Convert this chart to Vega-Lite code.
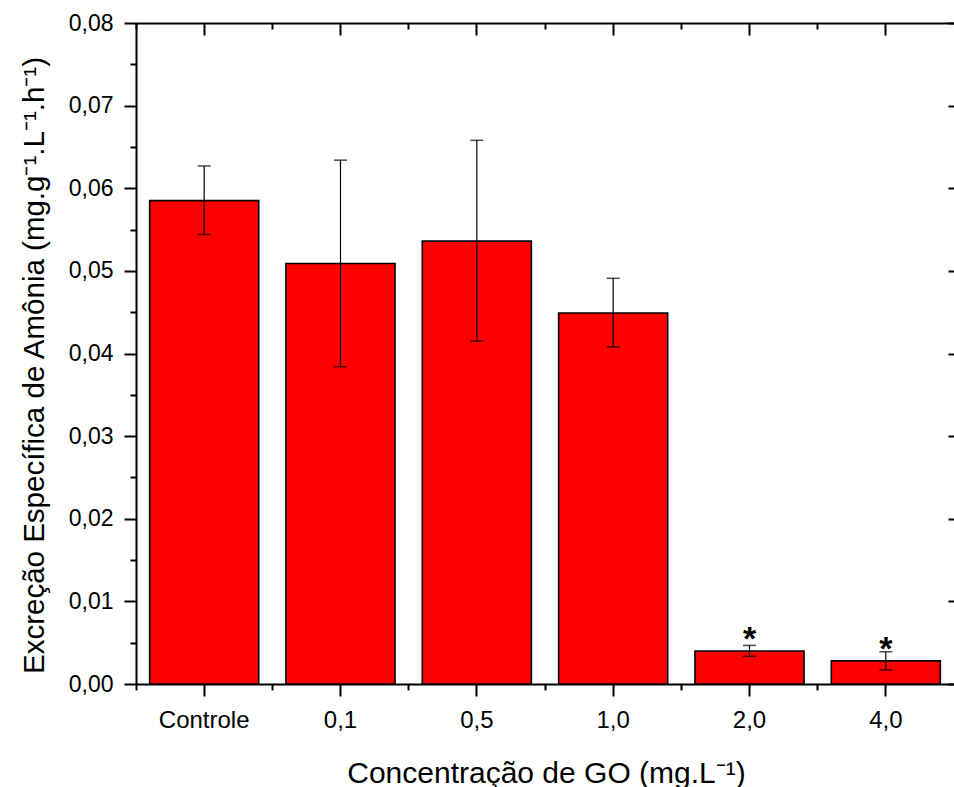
{
  "$schema": "https://vega.github.io/schema/vega-lite/v6.json",
  "width": 818,
  "height": 661,
  "autosize": "none",
  "padding": {"left": 136, "top": 23, "right": 0, "bottom": 103},
  "background": "white",
  "config": {
    "view": {"stroke": null},
    "font": "Liberation Sans",
    "axis": {"grid": false, "domainColor": "black", "tickColor": "black", "labelColor": "black", "titleColor": "black", "domainWidth": 2, "tickWidth": 2}
  },
  "data": {
    "values": [
      {"conc": "Controle", "mean": 0.0585, "lo": 0.0544, "hi": 0.0627, "sig": ""},
      {"conc": "0,1", "mean": 0.0509, "lo": 0.0384, "hi": 0.0634, "sig": ""},
      {"conc": "0,5", "mean": 0.0536, "lo": 0.0415, "hi": 0.0658, "sig": ""},
      {"conc": "1,0", "mean": 0.0449, "lo": 0.0408, "hi": 0.0491, "sig": ""},
      {"conc": "2,0", "mean": 0.0040, "lo": 0.00335, "hi": 0.00467, "sig": "*"},
      {"conc": "4,0", "mean": 0.0028, "lo": 0.0017, "hi": 0.0039, "sig": "*"}
    ]
  },
  "resolve": {"axis": {"x": "independent", "y": "independent"}},
  "layer": [
    {
      "mark": {"type": "bar", "width": {"band": 0.8}, "fill": "#ff0000", "stroke": "black", "strokeWidth": 1.6},
      "encoding": {
        "x": {
          "field": "conc", "type": "nominal", "sort": null,
          "scale": {"paddingInner": 0, "paddingOuter": 0},
          "axis": {
            "orient": "bottom", "labelAngle": 0, "labelFontSize": 24, "labelPadding": 12, "tickSize": 12,
            "title": "Concentração de GO (mg.L⁻¹)", "titleFontSize": 30, "titleFontWeight": "normal",
            "titleX": 410, "titleY": 98, "titleBaseline": "alphabetic"
          }
        },
        "y": {
          "field": "mean", "type": "quantitative",
          "scale": {"domain": [0, 0.08], "nice": false, "zero": true},
          "axis": {
            "orient": "left", "values": [0, 0.01, 0.02, 0.03, 0.04, 0.05, 0.06, 0.07, 0.08],
            "labelExpr": "replace(format(datum.value, '.2f'), '.', ',')",
            "labelFontSize": 23, "labelPadding": 11, "tickSize": 12,
            "title": "Excreção Específica de Amônia (mg.g⁻¹.L⁻¹.h⁻¹)", "titleFontSize": 29.5, "titleFontWeight": "normal",
            "titleX": -93, "titleY": 342, "titleBaseline": "alphabetic"
          }
        }
      }
    },
    {
      "mark": {"type": "rule", "color": "black", "strokeWidth": 1.2},
      "encoding": {
        "x": {"field": "conc", "type": "nominal", "sort": null,
          "axis": {"orient": "bottom", "bandPosition": 0, "labels": false, "domain": false, "tickSize": 6, "title": null}},
        "y": {"field": "lo", "type": "quantitative",
          "axis": {"orient": "left", "values": [0.005, 0.015, 0.025, 0.035, 0.045, 0.055, 0.065, 0.075], "labels": false, "domain": false, "tickSize": 6, "title": null}},
        "y2": {"field": "hi"}
      }
    },
    {
      "mark": {"type": "tick", "color": "black", "size": 13, "thickness": 1.5},
      "encoding": {
        "x": {"field": "conc", "type": "nominal", "sort": null,
          "axis": {"orient": "top", "labels": false, "domain": true, "tickSize": -12, "title": null}},
        "y": {"field": "lo", "type": "quantitative",
          "axis": {"orient": "right", "values": [0, 0.01, 0.02, 0.03, 0.04, 0.05, 0.06, 0.07, 0.08], "labels": false, "domain": false, "tickSize": -6, "title": null}}
      }
    },
    {
      "mark": {"type": "tick", "color": "black", "size": 13, "thickness": 1.5},
      "encoding": {
        "x": {"field": "conc", "type": "nominal", "sort": null,
          "axis": {"orient": "top", "bandPosition": 0, "labels": false, "domain": false, "tickSize": -6, "title": null}},
        "y": {"field": "hi", "type": "quantitative", "axis": null}
      }
    },
    {
      "mark": {"type": "text", "fontSize": 34, "fontWeight": "bold", "baseline": "alphabetic", "dy": -1, "color": "black"},
      "encoding": {
        "x": {"field": "conc", "type": "nominal", "sort": null, "axis": null},
        "y": {"field": "mean", "type": "quantitative", "axis": null},
        "text": {"field": "sig"}
      }
    }
  ]
}
